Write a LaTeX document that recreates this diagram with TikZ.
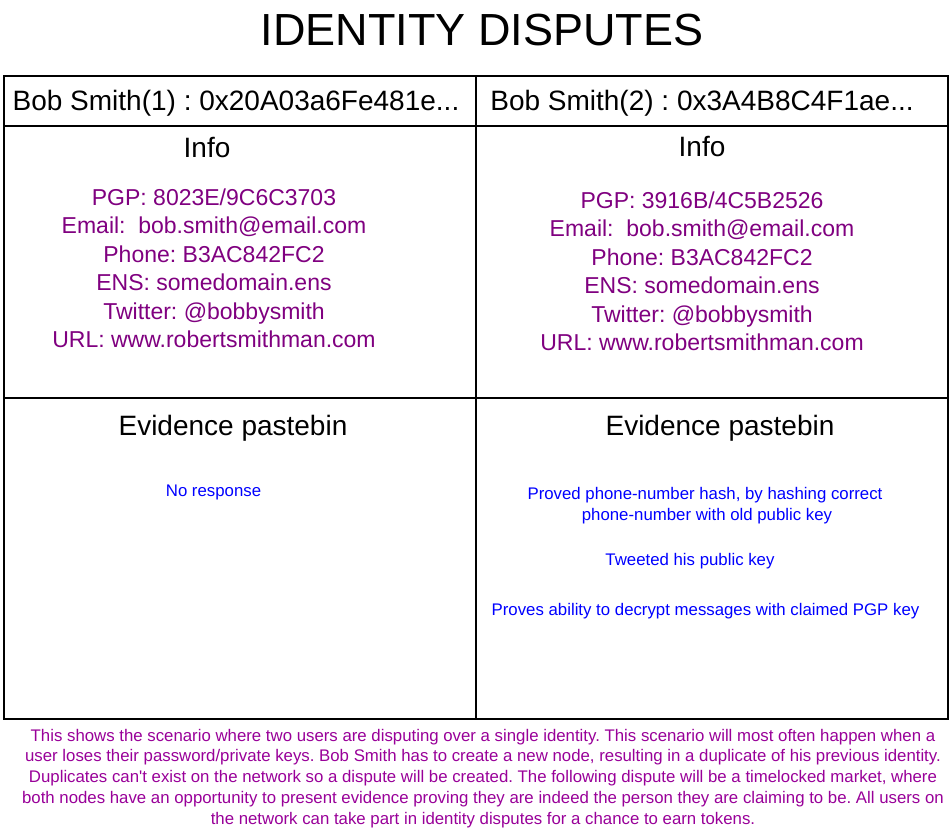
\documentclass[tikz,border=0pt]{standalone}
\usepackage{fontspec}
\setmainfont{Liberation Sans}
\definecolor{infopurple}{HTML}{800080}
\definecolor{notepurple}{HTML}{990099}
\definecolor{evblue}{HTML}{0000FF}
\frenchspacing
\begin{document}
\frenchspacing
\begin{tikzpicture}[x=1pt,y=-1pt,
  cell/.style={draw=black,line width=1.6pt,rectangle,anchor=north west,inner sep=0pt},
  txt/.style={inner sep=0pt,anchor=base},
  titlef/.style={txt,font=\fontsize{45}{54}\selectfont},
  hdrf/.style={txt,font=\fontsize{28}{34}\selectfont},
  infof/.style={txt,text=infopurple,font=\fontsize{23}{28}\selectfont},
  evf/.style={txt,text=evblue,font=\fontsize{16.8}{20}\selectfont},
  notef/.style={txt,text=notepurple,font=\fontsize{16.8}{20.75}\selectfont}]
\useasboundingbox[fill=white] (0,0) rectangle (950,828);
% cells
\node[cell,minimum width=472pt,minimum height=50pt] (hdrL) at (3,75) {};
\node[cell,minimum width=472pt,minimum height=50pt] (hdrR) at (475,75) {};
\node[cell,minimum width=472pt,minimum height=272pt] (infoL) at (3,125) {};
\node[cell,minimum width=472pt,minimum height=272pt] (infoR) at (475,125) {};
\node[cell,minimum width=472pt,minimum height=321pt] (evL) at (3,397) {};
\node[cell,minimum width=472pt,minimum height=321pt] (evR) at (475,397) {};
% title
\node[titlef] (title) at (482,45) {IDENTITY DISPUTES};
% headers
\node[hdrf] (hL) at (236,110) {Bob Smith(1) : 0x20A03a6Fe481e...};
\node[hdrf] (hR) at (702,110) {Bob Smith(2) : 0x3A4B8C4F1ae...};
\node[hdrf] (infoTL) at (207,157) {Info};
\node[hdrf] (infoTR) at (702,156) {Info};
% info left
\node[infof] (l1) at (214,205) {PGP: 8023E/9C6C3703};
\node[infof] (l2) at (214,233.5) {Email:\ \ bob.smith@email.com};
\node[infof] (l3) at (214,262) {Phone: B3AC842FC2};
\node[infof] (l4) at (214,290.5) {ENS: somedomain.ens};
\node[infof] (l5) at (214,319) {Twitter: @bobbysmith};
\node[infof] (l6) at (214,347.5) {URL: www.robertsmithman.com};
% info right
\node[infof] (r1) at (702,208) {PGP: 3916B/4C5B2526};
\node[infof] (r2) at (702,236.5) {Email:\ \ bob.smith@email.com};
\node[infof] (r3) at (702,265) {Phone: B3AC842FC2};
\node[infof] (r4) at (702,293.5) {ENS: somedomain.ens};
\node[infof] (r5) at (702,322) {Twitter: @bobbysmith};
\node[infof] (r6) at (702,350.5) {URL: www.robertsmithman.com};
% evidence
\node[hdrf] (evTL) at (233,435) {Evidence pastebin};
\node[hdrf] (evTR) at (720,435) {Evidence pastebin};
\node[evf] (e0) at (213.5,496) {No response};
\node[evf] (e1) at (705,499) {Proved phone-number hash, by hashing correct};
\node[evf] (e2) at (707,520) {phone-number with old public key};
\node[evf] (e3) at (690,565) {Tweeted his public key};
\node[evf] (e4) at (705.5,615) {Proves ability to decrypt messages with claimed PGP key};
% note
\node[notef] (n1) at (483,741) {This shows the scenario where two users are disputing over a single identity. This scenario will most often happen when a};
\node[notef] (n2) at (483,761.75) {user loses their password/private keys. Bob Smith has to create a new node, resulting in a duplicate of his previous identity.};
\node[notef] (n3) at (483,782.5) {Duplicates can\textquotesingle t exist on the network so a dispute will be created. The following dispute will be a timelocked market, where};
\node[notef] (n4) at (483,803.25) {both nodes have an opportunity to present evidence proving they are indeed the person they are claiming to be. All users on};
\node[notef] (n5) at (483,824) {the network can take part in identity disputes for a chance to earn tokens.};
\end{tikzpicture}
\end{document}
